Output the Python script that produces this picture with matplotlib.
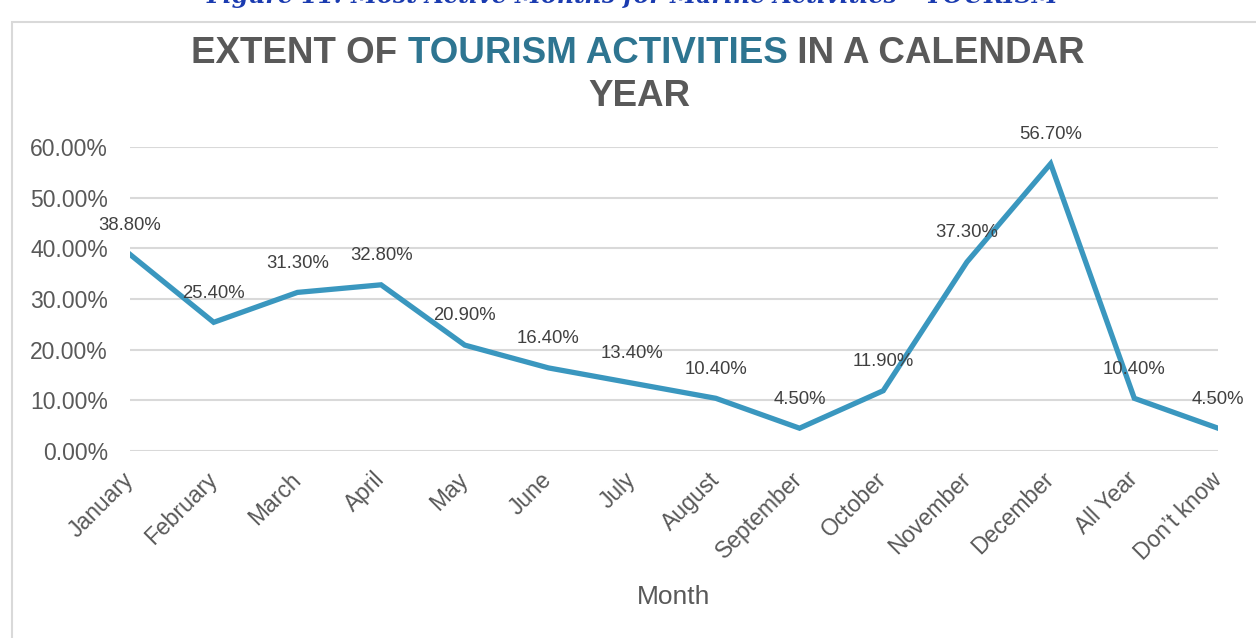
import matplotlib.pyplot as plt
import matplotlib.patches as patches
import numpy as np

plt.rcParams['font.family'] = ['Liberation Sans', 'DejaVu Sans']

months = ['January', 'February', 'March', 'April', 'May', 'June', 'July',
          'August', 'September', 'October', 'November', 'December',
          'All Year', 'Don\u2019t know']
share = [38.8, 25.4, 31.3, 32.8, 20.9, 16.4, 13.4, 10.4, 4.5, 11.9, 37.3, 56.7, 10.4, 4.5]
yticks = [0, 10, 20, 30, 40, 50, 60]

line_col = '#3a97bf'
grey = '#595959'
teal = '#2e7591'

W, H = 1256, 638
fig = plt.figure(figsize=(W / 100, H / 100), dpi=100)
ax = fig.add_axes([130 / W, 1 - 451 / H, (1218 - 130) / W, (451 - 147) / H])

x = np.arange(len(months))
ax.plot(x, share, color=line_col, lw=3.8, solid_joinstyle='miter', zorder=3)
for xi, v in zip(x, share):
    ax.annotate(f'{v:.2f}%', (xi, v), xytext=(0, 21), textcoords='offset points',
                ha='center', va='center', fontsize=13.3, color='#404040', zorder=4)

ax.set_xlim(0, len(months) - 1)
ax.set_ylim(0, 60)
ax.set_yticks(yticks)
ax.set_yticklabels([f'{t:.2f}%' for t in yticks], fontsize=16.5, color=grey)
ax.yaxis.grid(True, color='#d9d9d9', lw=1.5, zorder=0)
ax.tick_params(axis='y', length=0, pad=16)
ax.set_xticks(x)
ax.set_xticklabels(months, rotation=45, ha='right', va='center', rotation_mode='anchor',
                   fontsize=16.5, color=grey)
ax.tick_params(axis='x', length=0, pad=18)
for s in ax.spines.values():
    s.set_visible(False)
ax.set_xlabel('Month', fontsize=19, color=grey, va='center')
ax.xaxis.set_label_coords(0.5, (451 - 597) / (451 - 147))

# chart frame
fig.patches.append(patches.Rectangle((12 / W, -0.1), 1.2, 1 - 22 / H + 0.1,
                                     transform=fig.transFigure, fill=False,
                                     edgecolor='#d9d9d9', lw=1.5))

# caption above the frame, cut by the page edge
fig.text(632 / W, 1 - 3 / H, 'Figure 11: Most Active Months for Marine Activities \u2013 TOURISM',
         ha='center', va='baseline', fontsize=17, color='#1a3bb0',
         family='DejaVu Serif', weight='bold', style='italic')

# two-colour title
parts = [('EXTENT OF ', grey), ('TOURISM ACTIVITIES', teal), (' IN A CALENDAR', grey)]
texts = [fig.text(0, 1 - 63 / H, p, color=c, fontsize=26.5, weight='bold', va='baseline')
         for p, c in parts]
fig.canvas.draw()
r = fig.canvas.get_renderer()
widths = [t.get_window_extent(r).width for t in texts]
xpos = 638 - sum(widths) / 2
for t, w in zip(texts, widths):
    t.set_x(xpos / W)
    xpos += w
fig.text(639 / W, 1 - 106 / H, 'YEAR', color=grey, fontsize=26.5, weight='bold',
         ha='center', va='baseline')

fig.savefig('out.png', dpi=100)
